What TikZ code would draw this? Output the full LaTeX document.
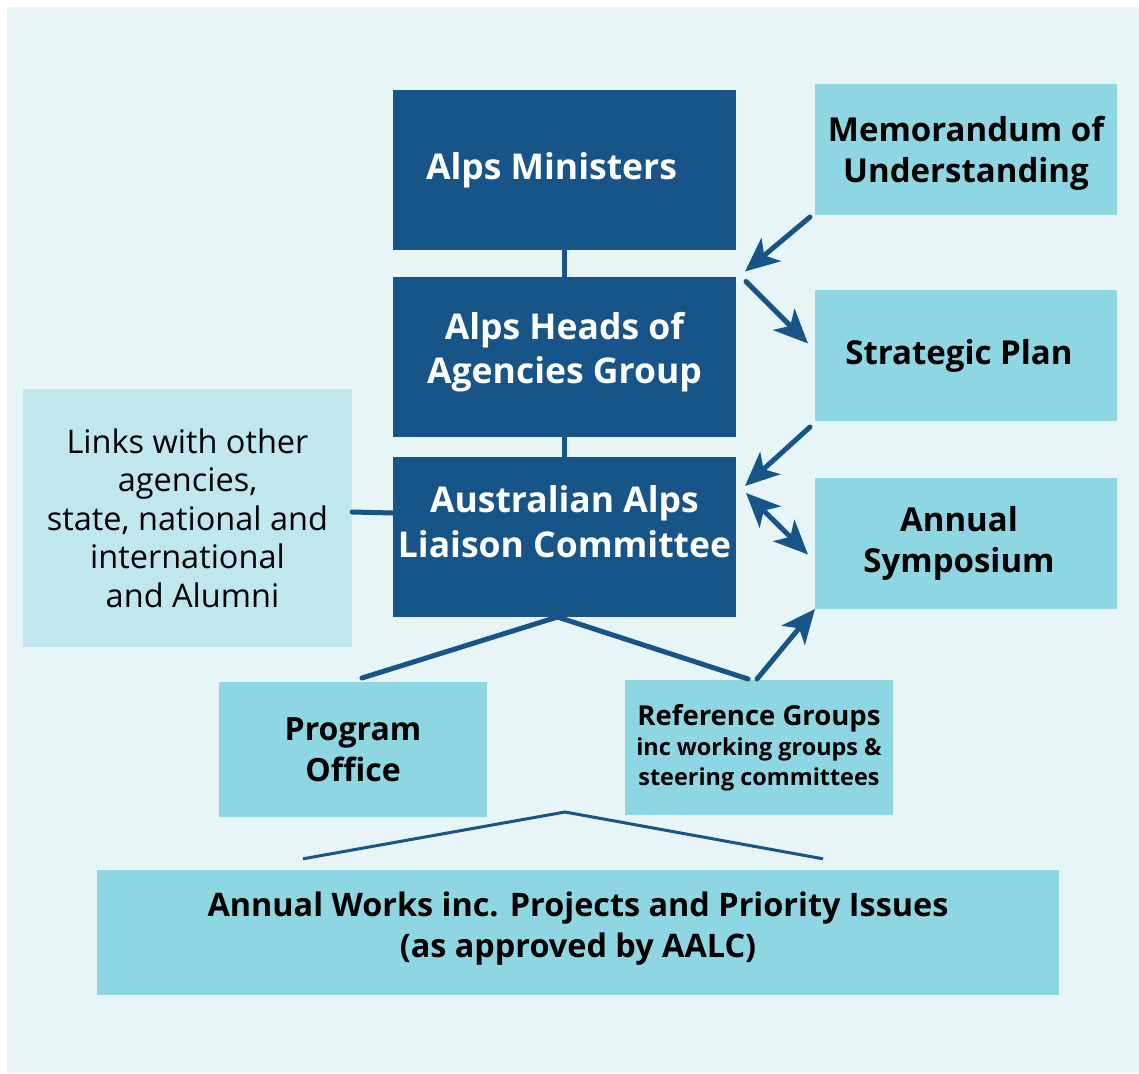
\documentclass[tikz,border=0pt]{standalone}
\usepackage{fontspec}
\setmainfont{Open Sans}
\usetikzlibrary{arrows.meta,positioning,calc}
\usepackage{xcolor}
\definecolor{alpsdark}{HTML}{175488}
\definecolor{alpslight}{HTML}{8FD6E3}
\definecolor{alpspale}{HTML}{C1E7EE}
\definecolor{alpsbg}{HTML}{E7F5F7}

\begin{document}
\begin{tikzpicture}[
    x=1pt, y=-1pt,
    body/.style={rectangle, fill=alpsdark, text=white, align=center, minimum width=343, minimum height=160, inner sep=0, outer sep=0, font=\fontsize{35.5}{44}\selectfont\bfseries},
    side/.style={rectangle, fill=alpslight, align=center, minimum width=302, minimum height=131, inner sep=0, outer sep=0, font=\fontsize{33}{41}\selectfont\bfseries},
    group/.style={rectangle, fill=alpslight, align=center, minimum width=268, minimum height=135, inner sep=0, outer sep=0},
    link/.style={alpsdark, line width=5, line cap=round},
    arrow/.style={link, -{Stealth[length=34, width=30, inset=9]}},
    twoway/.style={link, {Stealth[length=34, width=30, inset=9]}-{Stealth[length=34, width=30, inset=9]}}
]

% fond
\useasboundingbox (0,0) rectangle (1139,1073);
\fill[alpsbg] (7,7) rectangle (1139,1073);

% colonne centrale
\node[body] (ministers) at (564.5,170) {\hspace*{-26pt}Alps Ministers};
\node[body, text depth=17] (heads) at (564.5,356.5) {Alps Heads of\\Agencies Group};
\node[body, text depth=30, font=\fontsize{35.5}{45}\selectfont\bfseries] (aalc) at (564.5,537) {Australian Alps\\Liaison Committee};

\draw[link] (ministers) -- (heads);
\draw[link] (heads) -- (aalc);

% colonne droite
\node[side, text depth=-4] (mou) at (966,149.5) {Memorandum of\\Understanding};
\node[side] (plan) at (966,355.5) {\hspace*{-14pt}Strategic Plan};
\node[side] (symposium) at (966,543.5) {\hspace*{-14pt}Annual\\\hspace*{-14pt}Symposium};

\draw[arrow] ($(mou.south west)+(-5,2)$) -- ($(heads.north east)+(9,-5)$);
\draw[arrow] ($(heads.north east)+(10,5)$) -- ($(plan.west)+(-7,-12)$);
\draw[arrow] ($(plan.south west)+(-5,6)$) -- ($(aalc.north east)+(9,29)$);
\draw[twoway] ($(aalc.north east)+(10,36)$) -- ($(symposium.west)+(-7,11)$);

% liens externes
\node[rectangle, fill=alpspale, align=center, minimum width=329, minimum height=258, inner sep=0,
      font=\fontsize{32.5}{38.5}\selectfont] (links) at (187.5,518)
      {Links with other\\agencies,\\state, national and\\international\\\hspace*{10pt}and Alumni};
\draw[link] ($(links.east)+(0,-6)$) -- ($(aalc.west)+(0,-24)$);

% groupes
\node[group, font=\fontsize{32}{41}\selectfont\bfseries] (office) at (353,749.5) {Program\\Office};
\node[group] (refgroups) at (759,747.5)
      {{\fontsize{27.5}{30}\selectfont\bfseries Reference Groups}\\[5pt]
       {\fontsize{23.4}{29}\selectfont\bfseries inc working groups \&}\\[5pt]
       {\fontsize{23.4}{29}\selectfont\bfseries steering committees}};

\draw[link] ($(aalc.south)+(-7,0)$) -- ($(office.north)+(9,-4)$);
\draw[link] ($(aalc.south)+(-7,0)$) -- ($(refgroups.north)+(-11,-1)$);
\draw[arrow] ($(refgroups.north)+(-2,-1)$) -- (symposium.south west);

% travaux annuels
\node[rectangle, fill=alpslight, align=center, minimum width=962, minimum height=125, inner sep=0,
      text depth=16, font=\fontsize{32.4}{41}\selectfont\bfseries] (works) at (578,932.5)
      {Annual Works inc. Projects and Priority Issues\\(as approved by AALC)};
\coordinate (apex) at (565,812);
\draw[alpsdark, line width=3] ($(works.north)+(-275,-11)$) -- (apex) -- ($(works.north)+(245,-11)$);

\end{tikzpicture}
\end{document}
